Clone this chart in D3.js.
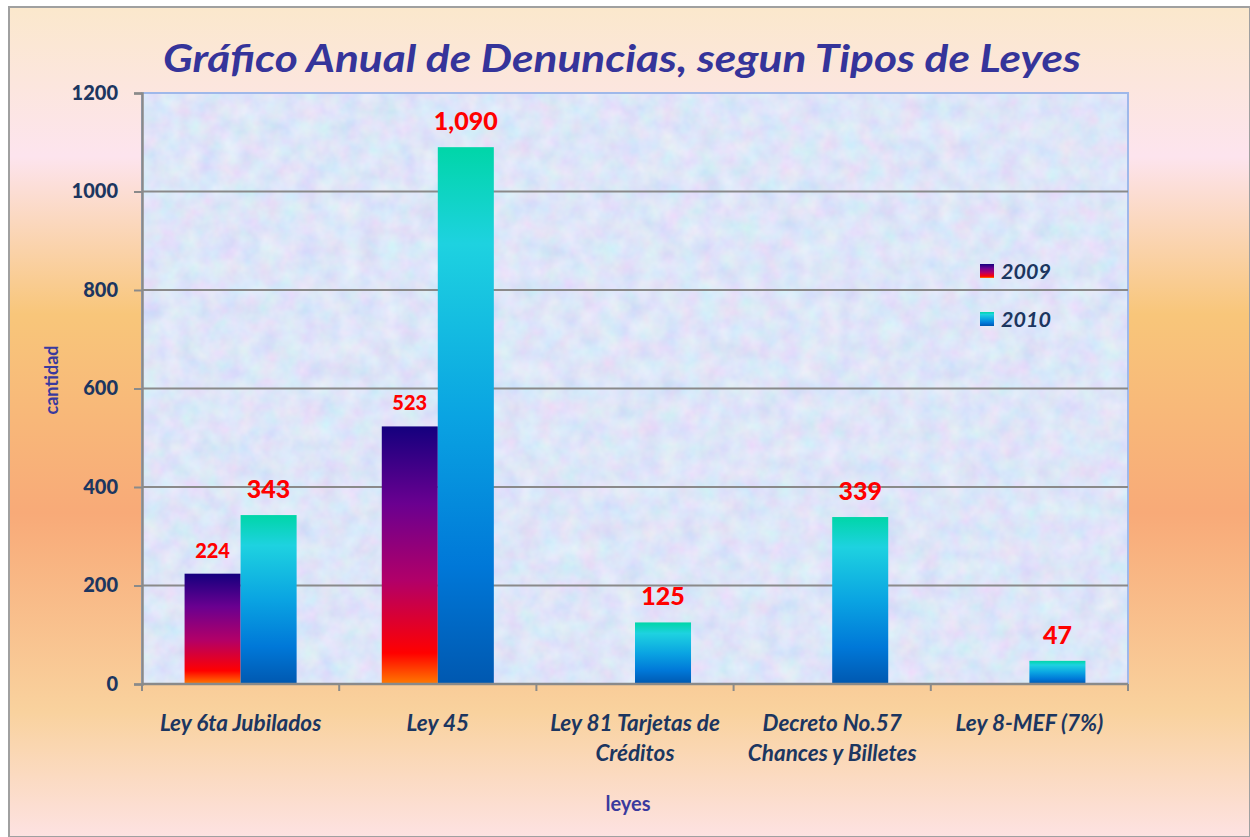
<!DOCTYPE html>
<html>
<head>
<meta charset="utf-8">
<title>Gráfico Anual de Denuncias</title>
<script src="https://cdn.jsdelivr.net/npm/d3@7"></script>
<style>
  body { margin: 0; background: #fff; }
  text { font-family: Lato, "Open Sans", sans-serif; }
</style>
</head>
<body>
<script>
// datos
var categorias = [["Ley 6ta Jubilados"], ["Ley 45"], ["Ley 81 Tarjetas de", "Créditos"],
                  ["Decreto No.57", "Chances y Billetes"], ["Ley 8-MEF  (7%)"]];
var series = ["2009", "2010"];
var valores2009 = [224, 523, null, null, null];
var valores2010 = [343, 1090, 125, 339, 47];
var yTicks = [0, 200, 400, 600, 800, 1000, 1200];

var W = 1250, H = 837;
var svg = d3.select("body").append("svg").attr("width", W).attr("height", H);
var defs = svg.append("defs");

// fondo general
var bg = defs.append("linearGradient").attr("id", "bg").attr("x1", 0).attr("y1", 0).attr("x2", 0).attr("y2", 1);
[[0, "#fbe8cc"], [0.18, "#fde4ee"], [0.37, "#f8c67a"], [0.61, "#f8aa78"], [0.85, "#f9d29e"], [1, "#fde2e2"]]
  .forEach(function(s) { bg.append("stop").attr("offset", s[0]).attr("stop-color", s[1]); });

// gradientes de barras
var g09 = defs.append("linearGradient").attr("id", "g2009").attr("x1", 0).attr("y1", 0).attr("x2", 0).attr("y2", 1);
[[0, "#14007e"], [0.3, "#6a0090"], [0.6, "#b20068"], [0.88, "#ff0000"], [1, "#ff7a00"]]
  .forEach(function(s) { g09.append("stop").attr("offset", s[0]).attr("stop-color", s[1]); });
var g10 = defs.append("linearGradient").attr("id", "g2010").attr("x1", 0).attr("y1", 0).attr("x2", 0).attr("y2", 1);
[[0, "#00d6a8"], [0.18, "#1ed2e0"], [0.5, "#0aa4e2"], [0.78, "#0078d8"], [1, "#0058b0"]]
  .forEach(function(s) { g10.append("stop").attr("offset", s[0]).attr("stop-color", s[1]); });

// textura del area de trazado
var f = defs.append("filter").attr("id", "tex").attr("x", 0).attr("y", 0).attr("width", 1).attr("height", 1);
f.append("feTurbulence").attr("type", "fractalNoise").attr("baseFrequency", 0.05).attr("numOctaves", 3).attr("seed", 7).attr("result", "n");
f.append("feColorMatrix").attr("in", "n").attr("type", "matrix")
  .attr("values", "0.5 0 0 0 0.55  0 0.4 0 0 0.64  0 0 0.2 0 0.86  0 0 0 0 1");

svg.append("rect").attr("x", 9).attr("y", 7).attr("width", W - 9).attr("height", H - 7)
  .attr("fill", "url(#bg)").attr("stroke", "#a0a0a0").attr("stroke-width", 2);

var pLeft = 142, pRight = 1128, pTop = 93, pBottom = 684;

var y = d3.scaleLinear().domain([0, 1200]).range([pBottom, pTop]);
var x0 = d3.scaleBand().domain(d3.range(categorias.length)).range([pLeft, pRight]);
var x1 = d3.scaleBand().domain(series).range([0, x0.bandwidth()]).paddingOuter(0.76);

// fondo del plot
svg.append("rect").attr("x", pLeft).attr("y", pTop).attr("width", pRight - pLeft).attr("height", pBottom - pTop)
  .attr("fill", "#cddaf5");
svg.append("rect").attr("x", pLeft).attr("y", pTop).attr("width", pRight - pLeft).attr("height", pBottom - pTop)
  .attr("filter", "url(#tex)").attr("opacity", 0.65);
svg.append("rect").attr("x", pLeft).attr("y", pTop).attr("width", pRight - pLeft).attr("height", pBottom - pTop)
  .attr("fill", "none").attr("stroke", "#9fb8ea").attr("stroke-width", 2);

// lineas de division
svg.append("g").selectAll("line").data(yTicks.slice(1, -1)).enter().append("line")
  .attr("x1", pLeft).attr("x2", pRight).attr("y1", function(d) { return y(d); }).attr("y2", function(d) { return y(d); })
  .attr("stroke", "#8a8a8a").attr("stroke-width", 2);

// barras
var rows = categorias.map(function(c, i) { return { i: i, v: [valores2009[i], valores2010[i]] }; });
var grp = svg.append("g").selectAll("g").data(rows).enter().append("g")
  .attr("transform", function(d) { return "translate(" + x0(d.i) + ",0)"; });

function barras(d) {
  return series.map(function(s, k) { return { s: s, v: d.v[k] }; }).filter(function(e) { return e.v != null; });
}

grp.selectAll("rect").data(barras).enter().append("rect")
  .attr("x", function(d) { return x1(d.s); })
  .attr("y", function(d) { return y(d.v); })
  .attr("width", x1.bandwidth())
  .attr("height", function(d) { return pBottom - y(d.v); })
  .attr("fill", function(d) { return "url(#g" + d.s + ")"; });

grp.selectAll("text").data(barras).enter().append("text")
  .attr("x", function(d) { return x1(d.s) + x1.bandwidth() / 2; })
  .attr("y", function(d) { return y(d.v) - (d.s == "2009" ? 16 : 17); })
  .attr("text-anchor", "middle")
  .attr("font-weight", 900)
  .attr("font-size", function(d) { return d.s == "2009" ? 20 : 25; })
  .attr("fill", "#ff0000")
  .text(function(d) { return d3.format(",")(d.v); });

// ejes
var yAxis = d3.axisLeft(y).tickValues(yTicks).tickFormat(d3.format("d")).tickSize(8).tickPadding(16);
var ya = svg.append("g").attr("transform", "translate(" + pLeft + ",0)").call(yAxis);
ya.select(".domain").attr("stroke", "#8a8a8a").attr("stroke-width", 2.5);
ya.selectAll(".tick line").attr("stroke", "#8a8a8a").attr("stroke-width", 2);
ya.selectAll(".tick text").attr("font-size", 20).attr("font-weight", 900).attr("fill", "#1c3660")
  .attr("font-family", "Lato, sans-serif");

var bounds = d3.range(categorias.length + 1).map(function(i) { return pLeft + i * x0.step(); });
svg.append("line").attr("x1", pLeft).attr("x2", pRight).attr("y1", pBottom).attr("y2", pBottom)
  .attr("stroke", "#8a8a8a").attr("stroke-width", 2.5);
svg.append("g").selectAll("line").data(bounds).enter().append("line")
  .attr("x1", function(d) { return d; }).attr("x2", function(d) { return d; })
  .attr("y1", pBottom).attr("y2", pBottom + 7).attr("stroke", "#8a8a8a").attr("stroke-width", 2);

var cl = svg.append("g").selectAll("text").data(categorias).enter().append("text")
  .attr("x", function(d, i) { return x0(i) + x0.bandwidth() / 2; })
  .attr("y", 731)
  .attr("text-anchor", "middle")
  .attr("font-size", 22.5).attr("font-weight", "bold").attr("font-style", "italic")
  .attr("fill", "#1c3660");
cl.selectAll("tspan").data(function(d) { return d; }).enter().append("tspan")
  .attr("x", function() { return d3.select(this.parentNode).attr("x"); })
  .attr("dy", function(d, i) { return i == 0 ? 0 : 30; })
  .text(function(d) { return d; });

// titulos
svg.append("text").attr("x", 622).attr("y", 72).attr("text-anchor", "middle")
  .attr("font-size", 38).attr("font-weight", "bold").attr("font-style", "italic")
  .attr("fill", "#35349a").attr("textLength", 918).attr("lengthAdjust", "spacingAndGlyphs")
  .text("Gráfico Anual de Denuncias, segun Tipos de Leyes");

svg.append("text").attr("transform", "translate(58,380) rotate(-90)").attr("text-anchor", "middle")
  .attr("font-size", 18).attr("font-weight", "bold").attr("fill", "#3a3a9e").text("cantidad");
svg.append("text").attr("x", 628).attr("y", 811).attr("text-anchor", "middle")
  .attr("font-size", 20).attr("font-weight", "bold").attr("fill", "#3a3a9e").text("leyes");

// leyenda
var lg = svg.append("g").selectAll("g").data(series).enter().append("g")
  .attr("transform", function(d, i) { return "translate(980," + (264 + i * 48) + ")"; });
lg.append("rect").attr("width", 14).attr("height", 14).attr("fill", function(d) { return "url(#g" + d + ")"; });
lg.append("text").attr("x", 21).attr("y", 15).attr("font-size", 21.5).attr("font-weight", "bold")
  .attr("font-style", "italic").attr("fill", "#1c3660").text(function(d) { return d; });
</script>
</body>
</html>
